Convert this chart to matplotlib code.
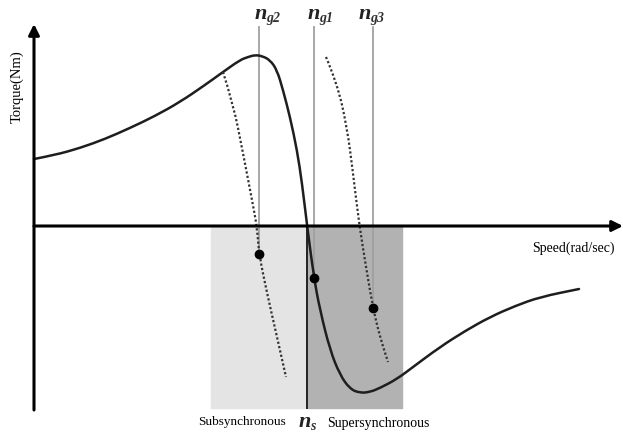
import matplotlib.pyplot as plt
import numpy as np
from matplotlib.path import Path
from matplotlib.patches import PathPatch

# ================= DATA =================
# speed / torque in drawing units (origin at the axis crossing)
curve_speed  = [0, 21, 46, 71, 96, 121, 146, 171, 189, 206, 214, 221, 228, 236, 243, 249,
                256, 263, 268, 273, 280, 286, 296, 306, 316, 326, 336, 346, 363, 379,
                406, 431, 456, 481, 506, 545]
curve_torque = [67, 71, 78, 87, 98, 110, 124, 141, 154, 166, 169, 171, 170, 166, 156, 136,
                109, 76, 43, 1, -52, -84, -124, -149, -163, -167, -166, -162, -153, -141,
                -121, -105, -91, -80, -71, -63]

sub_speed  = [189, 199, 209, 218, 223, 225, 233, 243, 252]
sub_torque = [154, 123, 73, 26, -1, -28, -67, -111, -151]

sup_speed  = [292, 303, 313, 319, 325, 332, 339, 346, 354]
sup_torque = [169, 143, 99, 53, 3, -41, -82, -111, -136]

op_subs   = ['g2', 'g1', 'g3']
op_speed  = [225, 280, 339]
op_torque = [-28, -52, -82]
op_label_speed = [227, 280, 331]

ns_speed = 273
sub_band = (177, 274)
sup_band = (274, 368)
band_bottom = -182

plt.rcParams['font.family'] = 'Liberation Serif'


def smooth(xs, ys):
    # quadratic segments through the midpoints of the read points
    p = np.column_stack([xs, ys]).astype(float)
    verts, codes = [p[0]], [Path.MOVETO]
    for i in range(1, len(p) - 1):
        verts += [p[i], (p[i] + p[i + 1]) / 2]
        codes += [Path.CURVE3, Path.CURVE3]
    verts.append(p[-1])
    codes.append(Path.LINETO)
    return Path(verts, codes)


def n_label(x, y, sub):
    ax.text(x, y, 'n', ha='center', va='center', fontsize=16, style='italic',
            weight='bold', color='#222222')
    ax.annotate(sub, xy=(x, y), xytext=(4.0, -3.0), textcoords='offset points',
                ha='left', va='center', fontsize=10, style='italic', weight='bold',
                color='#333333')


# ================= PLOT =================
fig = plt.figure(figsize=(6.23, 4.34), dpi=100)
ax = fig.add_axes([0, 0, 1, 1])
ax.set_xlim(-34, 589)
ax.set_ylim(-208, 226)
ax.axis('off')

# shaded bands
ax.fill_between(sub_band, 0, band_bottom, color='#e4e4e4', zorder=1)
ax.fill_between(sup_band, 0, band_bottom, color='#b2b2b2', zorder=1)
ax.plot([ns_speed, ns_speed], [0, band_bottom], color='#222222', lw=1.4, zorder=3)

# axes with arrows
ax.annotate('', xy=(589, 0), xytext=(0, 0),
            arrowprops=dict(arrowstyle='-|>', lw=2.2, color='black', mutation_scale=16,
                            shrinkA=0, shrinkB=0), zorder=5)
ax.annotate('', xy=(0, 202), xytext=(0, -184),
            arrowprops=dict(arrowstyle='-|>', lw=2.2, color='black', mutation_scale=16,
                            shrinkA=0, shrinkB=0), zorder=5)

# operating point verticals
for s, t in zip(op_speed, op_torque):
    ax.plot([s, s], [199, t], color='#a0a0a0', lw=1.3, zorder=2)

# torque curve and dotted shifted curves
ax.add_patch(PathPatch(smooth(curve_speed, curve_torque), fill=False,
                       edgecolor='#1e1e1e', lw=1.8, zorder=4, capstyle='round'))
ax.add_patch(PathPatch(smooth(sub_speed, sub_torque), fill=False,
                       edgecolor='#333333', lw=1.6, ls=(0, (1, 1)), zorder=4))
ax.add_patch(PathPatch(smooth(sup_speed, sup_torque), fill=False,
                       edgecolor='#333333', lw=1.6, ls=(0, (1, 1)), zorder=4))
ax.plot(op_speed, op_torque, 'o', color='black', ms=6, zorder=6)

# ================= TEXT =================
for sub, s in zip(op_subs, op_label_speed):
    n_label(s, 212, sub)
n_label(271, -196, 's')

ax.text(-17, 139, 'Torque(Nm)', rotation=90, ha='center', va='center', fontsize=10.5)
ax.text(539, -22, 'Speed(rad/sec)', ha='center', va='center', fontsize=10)
ax.text(208, -196, 'Subsynchronous', ha='center', va='center', fontsize=9.5)
ax.text(344, -197, 'Supersynchronous', ha='center', va='center', fontsize=10)

fig.savefig('out.png', dpi=100)
